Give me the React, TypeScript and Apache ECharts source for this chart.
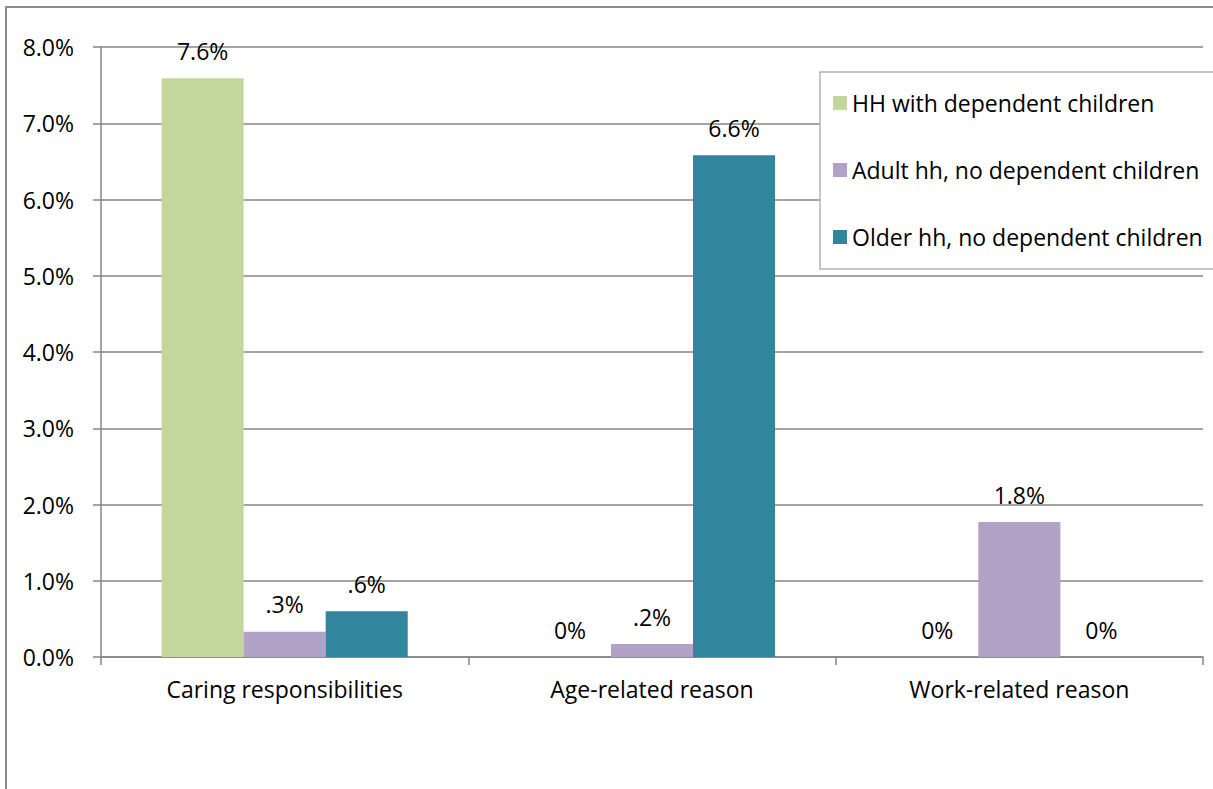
import React, { useEffect, useRef } from "react";
import * as echarts from "echarts";

const categories = ["Caring responsibilities", "Age-related reason", "Work-related reason"];
const seriesNames = [
  "HH with dependent children",
  "Adult hh, no dependent children",
  "Older hh, no dependent children",
];
const hhChildren = [7.59, 0, 0];
const adultHh = [0.33, 0.17, 1.77];
const olderHh = [0.6, 6.58, 0];
const yTicks = { min: 0, max: 8, interval: 1 };
const colors = ["#c3d69b", "#b2a2c7", "#31859c"];

const FONT = "Open Sans";
const FS = 23;

function fmtLabel(v: number): string {
  if (v === 0) return "0%";
  const s = v.toFixed(1);
  return (s.startsWith("0.") ? s.slice(1) : s) + "%";
}

export default function App() {
  const ref = useRef<HTMLDivElement>(null);
  useEffect(() => {
    if (!ref.current) return;
    const chart = echarts.init(ref.current, null, { renderer: "svg" });
    const values = [hhChildren, adultHh, olderHh];
    chart.setOption({
      animation: false,
      textStyle: { fontFamily: FONT },
      grid: { left: 101, right: 10, top: 47, bottom: 132, containLabel: false },
      legend: {
        orient: "vertical",
        left: 820,
        top: 72,
        data: seriesNames,
        itemWidth: 14,
        itemHeight: 14,
        itemGap: 43,
        icon: "rect",
        padding: [19, 40, 20, 13],
        backgroundColor: "#fff",
        borderColor: "#b4b4b4",
        borderWidth: 1.5,
        z: 10,
        textStyle: { fontFamily: FONT, fontSize: FS, color: "#000", lineHeight: 24, padding: [0, 0, 0, 0] },
      },
      xAxis: {
        type: "category",
        data: categories,
        axisLine: { lineStyle: { color: "#868686", width: 1.5 } },
        axisTick: { show: true, length: 8, alignWithLabel: false, lineStyle: { color: "#868686", width: 1.5 } },
        axisLabel: { color: "#000", fontSize: FS, fontFamily: FONT, margin: 20 },
      },
      yAxis: {
        type: "value",
        min: yTicks.min,
        max: yTicks.max,
        interval: yTicks.interval,
        axisLine: { show: true, lineStyle: { color: "#868686", width: 1.5 } },
        axisTick: { show: true, length: 8, lineStyle: { color: "#868686", width: 1.5 } },
        splitLine: { lineStyle: { color: "#868686", width: 1.5 } },
        axisLabel: {
          color: "#000",
          fontSize: FS,
          fontFamily: FONT,
          margin: 27,
          formatter: (v: number) => v.toFixed(1) + "%",
        },
      },
      series: seriesNames.map((name, i) => ({
        name,
        type: "bar",
        data: values[i],
        barGap: "0%",
        barCategoryGap: "33%",
        itemStyle: { color: colors[i] },
        label: {
          show: true,
          position: "top",
          distance: 16,
          color: "#000",
          fontSize: FS,
          fontFamily: FONT,
          formatter: (p: any) => fmtLabel(p.value),
        },
      })),
    });
    return () => chart.dispose();
  }, []);
  return (
    <div
      style={{
        position: "fixed",
        left: 0,
        top: 0,
        width: 1213,
        height: 789,
        overflow: "hidden",
        background: "#fff",
      }}
    >
      <div
        style={{
          position: "absolute",
          left: 5,
          top: 6,
          width: 1400,
          height: 1000,
          borderLeft: "2px solid #8c8c8c",
          borderTop: "2px solid #8c8c8c",
        }}
      />
      <div
        ref={ref}
        style={{ position: "absolute", left: 0, top: 0, width: 1213, height: 789 }}
      />
      <div
        style={{
          position: "absolute",
          left: 1206,
          top: 9,
          width: 10,
          height: 62,
          background: "#fff",
        }}
      />
      <div
        style={{
          position: "absolute",
          left: 1206,
          top: 74,
          width: 10,
          height: 193,
          background: "#fff",
        }}
      />
      <div
        style={{
          position: "absolute",
          left: 1206,
          top: 270,
          width: 10,
          height: 530,
          background: "#fff",
        }}
      />
    </div>
  );
}
